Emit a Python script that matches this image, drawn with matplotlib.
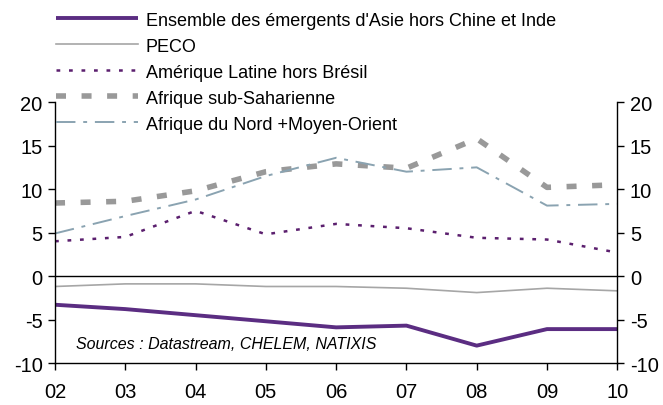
import matplotlib
matplotlib.use("Agg")
import matplotlib.pyplot as plt

plt.rcParams['font.family'] = ['Liberation Sans', 'DejaVu Sans']
plt.rcParams['axes.unicode_minus'] = False

years = ["02", "03", "04", "05", "06", "07", "08", "09", "10"]
asie = [-3.3, -3.8, -4.5, -5.2, -5.9, -5.7, -8.0, -6.1, -6.1]
peco = [-1.2, -0.9, -0.9, -1.2, -1.2, -1.4, -1.9, -1.4, -1.7]
amlat = [4.0, 4.5, 7.5, 4.8, 6.0, 5.5, 4.4, 4.2, 2.7]
afss = [8.4, 8.6, 9.8, 12.0, 12.9, 12.4, 15.8, 10.2, 10.5]
mena = [4.9, 6.9, 8.8, 11.5, 13.6, 12.0, 12.5, 8.1, 8.3]

labels = ["Ensemble des émergents d'Asie hors Chine et Inde",
          "PECO",
          "Amérique Latine hors Brésil",
          "Afrique sub-Saharienne",
          "Afrique du Nord +Moyen-Orient"]

fig = plt.figure(figsize=(6.63, 4.06), dpi=100)
ax = fig.add_axes([0.083, 0.1034, 0.848, 0.6426])
x = list(range(len(years)))

l1, = ax.plot(x, asie, color="#5b2d82", lw=2.8, solid_capstyle="butt")
l2, = ax.plot(x, peco, color="#a6a6a6", lw=1.2)
l3, = ax.plot(x, amlat, color="#5b1f6e", lw=1.8, dashes=(1.5, 3.5))
l4, = ax.plot(x, afss, color="#999999", lw=4.0, dashes=(1.8, 2.8))
l5, = ax.plot(x, mena, color="#8aa3b1", lw=1.4, dashes=(10, 4, 2, 4))

ax.axhline(0, color="black", lw=1.0)
ax.set_xlim(0, len(years) - 1)
ax.set_ylim(-10, 20)
ax.set_yticks([-10, -5, 0, 5, 10, 15, 20])
ax.set_xticks(x)
ax.set_xticklabels(years)
ax.spines['top'].set_visible(False)
for s in ['left', 'right', 'bottom']:
    ax.spines[s].set_linewidth(1.0)
ax.tick_params(axis='both', labelsize=14.5, length=5, width=1.0, direction='out')
ax.tick_params(axis='x', pad=9)
ax.tick_params(axis='y', right=True, labelright=True, pad=4)

ax.text(0.3, -7.8, "Sources : Datastream, CHELEM, NATIXIS",
        fontsize=11.5, style='italic', ha='left', va='center')

leg = fig.legend([l1, l2, l3, l4, l5], labels, loc='upper left',
                 bbox_to_anchor=(0.066, 1.0), frameon=False, fontsize=13,
                 handlelength=4.5, handletextpad=0.45, labelspacing=0.5,
                 borderpad=0.2)

fig.savefig("out.png", dpi=100)
